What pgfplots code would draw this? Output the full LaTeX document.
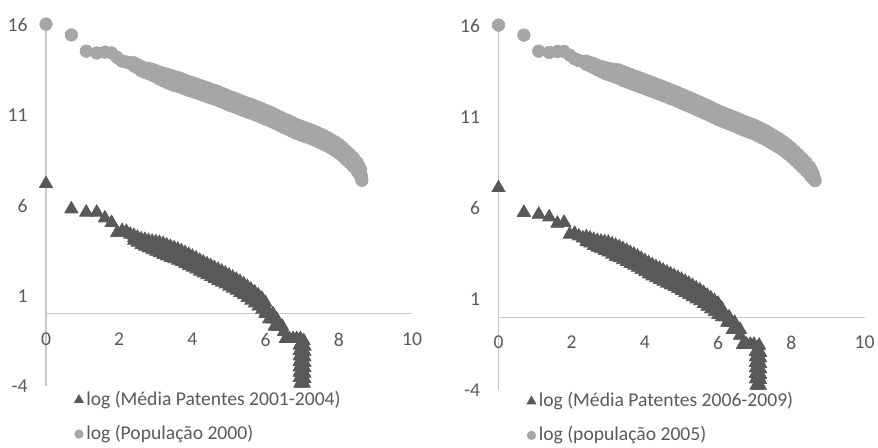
\documentclass[border=0pt]{standalone}
\usepackage{pgfplots}
\pgfplotsset{compat=1.18}
\usepackage{pgfplotstable}
\usepackage{fontspec}
\setmainfont{Carlito}

\definecolor{circ}{HTML}{A6A6A6}
\definecolor{tri}{HTML}{595959}
\definecolor{axln}{HTML}{C8C8C8}
\definecolor{lbl}{HTML}{595959}

% x = log(rank), y = band centre, a/b = upper and lower edge of the point cloud
% log(populacao 2000)
\pgfplotstableread{
x y a b
0 16.05 16.05 16.05
0.693 15.45 15.45 15.45
1.099 14.55 14.55 14.55
1.386 14.45 14.45 14.45
1.609 14.5 14.5 14.5
1.792 14.45 14.45 14.45
1.946 14.2 14.2 14.2
2.079 14.0 14.0 14.0
2.197 13.95 13.95 13.95
2.303 13.9 13.9 13.9
2.4 13.82 13.92 13.72
2.5 13.72 13.82 13.62
2.6 13.58 13.7 13.46
2.7 13.5 13.63 13.37
2.8 13.45 13.6 13.3
2.9 13.38 13.55 13.21
3.0 13.3 13.48 13.12
3.1 13.2 13.4 13.0
3.2 13.12 13.34 12.9
3.3 13.05 13.29 12.81
3.4 12.97 13.22 12.72
3.5 12.9 13.15 12.65
3.6 12.85 13.1 12.6
3.7 12.78 13.03 12.53
3.8 12.7 12.95 12.45
3.9 12.62 12.87 12.37
4.0 12.56 12.81 12.31
4.1 12.49 12.74 12.24
4.2 12.42 12.67 12.17
4.3 12.35 12.6 12.1
4.4 12.28 12.53 12.03
4.5 12.2 12.45 11.95
4.6 12.14 12.39 11.89
4.7 12.07 12.32 11.82
4.8 11.98 12.23 11.73
4.9 11.9 12.15 11.65
5.0 11.8 12.05 11.55
5.1 11.74 11.99 11.49
5.2 11.67 11.92 11.42
5.3 11.58 11.83 11.33
5.4 11.5 11.75 11.25
5.5 11.42 11.67 11.17
5.6 11.36 11.61 11.11
5.7 11.28 11.53 11.03
5.8 11.2 11.45 10.95
5.9 11.12 11.37 10.87
6.0 11.03 11.28 10.78
6.1 10.95 11.2 10.7
6.2 10.86 11.11 10.61
6.3 10.76 11.01 10.51
6.4 10.66 10.91 10.41
6.5 10.56 10.81 10.31
6.6 10.48 10.73 10.23
6.7 10.38 10.63 10.13
6.8 10.28 10.53 10.03
6.9 10.2 10.45 9.95
7.0 10.12 10.37 9.87
7.1 10.05 10.3 9.8
7.2 9.98 10.23 9.73
7.3 9.9 10.15 9.65
7.4 9.81 10.06 9.56
7.5 9.72 9.97 9.47
7.6 9.62 9.87 9.37
7.7 9.52 9.77 9.27
7.8 9.4 9.65 9.15
7.9 9.28 9.53 9.03
8.0 9.14 9.39 8.89
8.1 8.98 9.23 8.73
8.2 8.78 9.03 8.53
8.3 8.6 8.85 8.35
8.4 8.4 8.65 8.15
8.5 8.15 8.4 7.9
8.55 7.98 8.2 7.76
8.6 7.8 8.0 7.6
8.62 7.6 7.6 7.6
8.63 7.4 7.4 7.4
}\popA

% log(media patentes 2001-2004)
\pgfplotstableread{
x y a b
0 7.2 7.2 7.2
0.693 5.8 5.8 5.8
1.099 5.62 5.62 5.62
1.386 5.62 5.62 5.62
1.609 5.3 5.3 5.3
1.792 5.05 5.05 5.05
1.946 4.5 4.5 4.5
2.079 4.6 4.6 4.6
2.197 4.55 4.55 4.55
2.303 4.4 4.4 4.4
2.4 4.2 4.35 4.05
2.5 4.1 4.25 3.95
2.6 3.98 4.16 3.8
2.7 3.92 4.12 3.72
2.8 3.85 4.07 3.63
2.9 3.78 4.03 3.53
3.0 3.72 4.0 3.44
3.1 3.66 3.96 3.36
3.2 3.58 3.9 3.26
3.3 3.5 3.82 3.18
3.4 3.42 3.74 3.1
3.5 3.35 3.67 3.03
3.6 3.27 3.59 2.95
3.7 3.18 3.5 2.86
3.8 3.08 3.4 2.76
3.9 2.98 3.3 2.66
4.0 2.88 3.2 2.56
4.1 2.78 3.1 2.46
4.2 2.66 2.98 2.34
4.3 2.56 2.88 2.24
4.4 2.46 2.78 2.14
4.5 2.36 2.68 2.04
4.6 2.25 2.57 1.93
4.7 2.15 2.47 1.83
4.8 2.05 2.37 1.73
4.9 1.95 2.27 1.63
5.0 1.83 2.15 1.51
5.1 1.72 2.04 1.4
5.2 1.6 1.92 1.28
5.3 1.48 1.8 1.16
5.4 1.35 1.67 1.03
5.5 1.2 1.52 0.88
5.6 1.05 1.37 0.73
5.7 0.9 1.22 0.58
5.8 0.73 1.05 0.41
5.9 0.55 0.87 0.23
6.0 0.35 0.62 0.08
6.05 0.2 0.2 0.2
6.0 0.0 0.0 0.0
6.1 0.0 0.0 0.0
6.2 0.0 0.0 0.0
6.1 -0.29 -0.29 -0.29
6.2 -0.29 -0.29 -0.29
6.3 -0.29 -0.29 -0.29
6.25 -0.69 -0.69 -0.69
6.35 -0.69 -0.69 -0.69
6.45 -0.69 -0.69 -0.69
6.5 -1.0 -1.0 -1.0
6.55 -1.386 -1.386 -1.386
6.65 -1.386 -1.386 -1.386
6.75 -1.386 -1.386 -1.386
6.85 -1.386 -1.386 -1.386
6.95 -1.386 -1.386 -1.386
7.04 -1.5 -1.5 -1.5
6.93 -1.75 -1.75 -1.75
7.06 -1.8 -1.8 -1.8
6.93 -2.05 -2.05 -2.05
7.06 -2.1 -2.1 -2.1
6.93 -2.35 -2.35 -2.35
7.06 -2.4 -2.4 -2.4
6.93 -2.65 -2.65 -2.65
7.06 -2.7 -2.7 -2.7
6.93 -2.95 -2.95 -2.95
7.06 -3.0 -3.0 -3.0
6.93 -3.25 -3.25 -3.25
7.06 -3.3 -3.3 -3.3
6.93 -3.55 -3.55 -3.55
7.06 -3.6 -3.6 -3.6
6.95 -3.85 -3.85 -3.85
7.04 -3.85 -3.85 -3.85
}\patA

% log(populacao 2005)
\pgfplotstableread{
x y a b
0 16.05 16.05 16.05
0.693 15.5 15.5 15.5
1.099 14.62 14.62 14.62
1.386 14.55 14.55 14.55
1.609 14.6 14.6 14.6
1.792 14.6 14.6 14.6
1.946 14.4 14.4 14.4
2.079 14.2 14.2 14.2
2.197 14.1 14.1 14.1
2.303 14.05 14.05 14.05
2.4 13.98 14.08 13.88
2.5 13.9 14.0 13.8
2.6 13.82 13.94 13.7
2.7 13.72 13.85 13.59
2.8 13.64 13.79 13.49
2.9 13.56 13.73 13.39
3.0 13.5 13.68 13.32
3.1 13.45 13.65 13.25
3.2 13.4 13.62 13.18
3.3 13.35 13.59 13.11
3.4 13.25 13.5 13.0
3.5 13.18 13.43 12.93
3.6 13.1 13.35 12.85
3.7 13.02 13.27 12.77
3.8 12.95 13.2 12.7
3.9 12.87 13.12 12.62
4.0 12.8 13.05 12.55
4.1 12.72 12.97 12.47
4.2 12.65 12.9 12.4
4.3 12.57 12.82 12.32
4.4 12.5 12.75 12.25
4.5 12.42 12.67 12.17
4.6 12.34 12.59 12.09
4.7 12.26 12.51 12.01
4.8 12.18 12.43 11.93
4.9 12.1 12.35 11.85
5.0 12.01 12.26 11.76
5.1 11.92 12.17 11.67
5.2 11.84 12.09 11.59
5.3 11.75 12.0 11.5
5.4 11.66 11.91 11.41
5.5 11.57 11.82 11.32
5.6 11.48 11.73 11.23
5.7 11.39 11.64 11.14
5.8 11.3 11.55 11.05
5.9 11.2 11.45 10.95
6.0 11.1 11.35 10.85
6.1 11.02 11.27 10.77
6.2 10.94 11.19 10.69
6.3 10.86 11.11 10.61
6.4 10.78 11.03 10.53
6.5 10.7 10.95 10.45
6.6 10.61 10.86 10.36
6.7 10.53 10.78 10.28
6.8 10.45 10.7 10.2
6.9 10.38 10.63 10.13
7.0 10.3 10.55 10.05
7.1 10.2 10.45 9.95
7.2 10.1 10.35 9.85
7.3 10.0 10.25 9.75
7.4 9.88 10.13 9.63
7.5 9.76 10.01 9.51
7.6 9.64 9.89 9.39
7.7 9.52 9.77 9.27
7.8 9.38 9.63 9.13
7.9 9.22 9.47 8.97
8.0 9.05 9.3 8.8
8.1 8.87 9.12 8.62
8.2 8.68 8.93 8.43
8.3 8.48 8.73 8.23
8.4 8.28 8.53 8.03
8.5 8.05 8.28 7.82
8.55 7.9 8.1 7.7
8.6 7.75 7.9 7.6
8.63 7.62 7.62 7.62
8.65 7.5 7.5 7.5
}\popB

% log(media patentes 2006-2009)
\pgfplotstableread{
x y a b
0 7.1 7.1 7.1
0.693 5.75 5.75 5.75
1.099 5.65 5.65 5.65
1.386 5.5 5.5 5.5
1.609 5.15 5.15 5.15
1.792 5.2 5.2 5.2
1.946 4.55 4.55 4.55
2.079 4.6 4.6 4.6
2.197 4.45 4.45 4.45
2.303 4.35 4.35 4.35
2.4 4.28 4.43 4.13
2.5 4.2 4.35 4.05
2.6 4.1 4.28 3.92
2.7 4.02 4.22 3.82
2.8 3.96 4.18 3.74
2.9 3.9 4.15 3.65
3.0 3.84 4.12 3.56
3.1 3.74 4.04 3.44
3.2 3.64 3.96 3.32
3.3 3.56 3.88 3.24
3.4 3.46 3.78 3.14
3.5 3.36 3.68 3.04
3.6 3.25 3.57 2.93
3.7 3.15 3.47 2.83
3.8 3.04 3.36 2.72
3.9 2.92 3.24 2.6
4.0 2.8 3.12 2.48
4.1 2.68 3.0 2.36
4.2 2.57 2.89 2.25
4.3 2.47 2.79 2.15
4.4 2.37 2.69 2.05
4.5 2.27 2.59 1.95
4.6 2.17 2.49 1.85
4.7 2.07 2.39 1.75
4.8 1.97 2.29 1.65
4.9 1.87 2.19 1.55
5.0 1.77 2.09 1.45
5.1 1.66 1.98 1.34
5.2 1.55 1.87 1.23
5.3 1.43 1.75 1.11
5.4 1.3 1.62 0.98
5.5 1.2 1.52 0.88
5.6 1.05 1.37 0.73
5.7 0.9 1.22 0.58
5.8 0.75 1.07 0.43
5.9 0.6 0.92 0.28
6.0 0.45 0.77 0.13
6.1 0.25 0.5 0.0
6.2 0.0 0.0 0.0
6.3 0.0 0.0 0.0
6.25 -0.29 -0.29 -0.29
6.35 -0.29 -0.29 -0.29
6.45 -0.29 -0.29 -0.29
6.4 -0.69 -0.69 -0.69
6.5 -0.69 -0.69 -0.69
6.6 -0.69 -0.69 -0.69
6.6 -1.0 -1.0 -1.0
6.68 -1.5 -1.5 -1.5
6.78 -1.5 -1.5 -1.5
6.88 -1.5 -1.5 -1.5
6.98 -1.5 -1.5 -1.5
7.12 -1.55 -1.55 -1.55
7.03 -1.9 -1.9 -1.9
7.15 -1.95 -1.95 -1.95
7.03 -2.2 -2.2 -2.2
7.15 -2.25 -2.25 -2.25
7.03 -2.5 -2.5 -2.5
7.15 -2.55 -2.55 -2.55
7.03 -2.8 -2.8 -2.8
7.15 -2.85 -2.85 -2.85
7.03 -3.1 -3.1 -3.1
7.15 -3.15 -3.15 -3.15
7.03 -3.4 -3.4 -3.4
7.15 -3.45 -3.45 -3.45
7.05 -3.75 -3.75 -3.75
7.14 -3.75 -3.75 -3.75
}\patB

\pgfplotsset{
  panel/.style={
    scale only axis, width=183pt,
    xmin=0, xmax=10, ymin=-4, ymax=16,
    xtick={0,2,4,6,8,10}, ytick={-4,1,6,11,16},
    axis x line=middle, axis y line=left,
    hide obscured x ticks=false, hide obscured y ticks=false,
    axis line style={draw=axln, line width=0.6pt, -},
    major tick length=0pt,
    clip=false,
    /pgf/number format/assume math mode=true,
    tick label style={font=\fontsize{9.8}{11}\selectfont, text=lbl},
    xticklabel style={anchor=north, yshift=-6pt},
    yticklabel style={anchor=east, xshift=-5.7pt},
    legend style={draw=none, fill=none, inner sep=0pt, anchor=west,
      row sep=6pt, font=\fontsize{9.8}{11}\selectfont, text=lbl,
      nodes={inner xsep=1.5pt, inner ysep=1pt, text height=7pt, text depth=2pt}},
    legend cell align=left,
    legend image code/.code={\draw[mark repeat=2, mark phase=2, ##1,
      every mark/.append style={scale=0.7}]
      plot coordinates {(0cm,0cm) (0.1cm,0cm) (0.2cm,0cm)};},
  },
  tris/.style={only marks, mark=triangle*, mark size=3.6pt,
    color=tri, mark options={fill=tri, draw=tri}},
  circs/.style={only marks, mark=*, mark size=3pt,
    color=circ, mark options={fill=circ, draw=circ}},
}

\begin{document}
\begin{tikzpicture}
\begin{axis}[panel, height=180.5pt, at={(23pt,30.5pt)}, anchor=south west,
  legend style={at={(axis description cs:0.077,-0.086)}}]
  \addplot[tris, forget plot] table[y=a] {\patA};
  \addplot[tris, forget plot] table[y=b] {\patA};
  \addplot[tris] table[y=y] {\patA};
  \addlegendentry{log (Média Patentes 2001-2004)}
  \addplot[circs, forget plot] table[y=a] {\popA};
  \addplot[circs, forget plot] table[y=b] {\popA};
  \addplot[circs] table[y=y] {\popA};
  \addlegendentry{log (População 2000)}
\end{axis}
\begin{axis}[panel, height=182pt, at={(249.25pt,28.5pt)}, anchor=south west,
  legend style={at={(axis description cs:0.077,-0.078)}}]
  \addplot[tris, forget plot] table[y=a] {\patB};
  \addplot[tris, forget plot] table[y=b] {\patB};
  \addplot[tris] table[y=y] {\patB};
  \addlegendentry{log (Média Patentes 2006-2009)}
  \addplot[circs, forget plot] table[y=a] {\popB};
  \addplot[circs, forget plot] table[y=b] {\popB};
  \addplot[circs] table[y=y] {\popB};
  \addlegendentry{log (população 2005)}
\end{axis}
\pgfresetboundingbox
\path (0pt,0pt) rectangle (439pt,223.5pt);
\end{tikzpicture}
\end{document}
